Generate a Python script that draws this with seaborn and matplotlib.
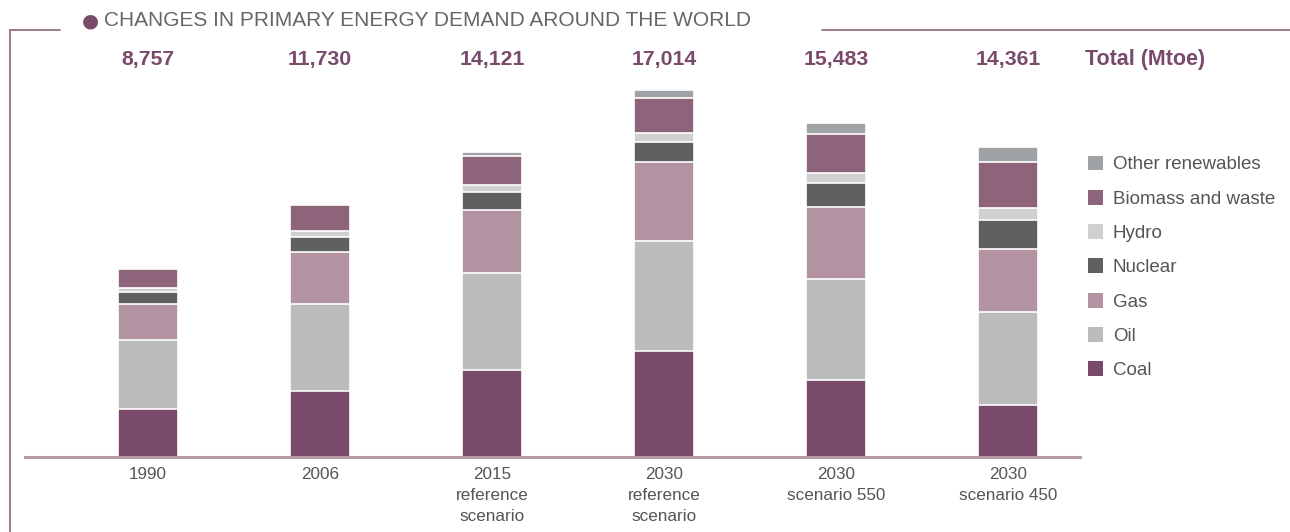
import matplotlib
matplotlib.use("Agg")
import matplotlib.pyplot as plt
import seaborn as sns
import numpy as np
import pandas as pd
from matplotlib.patches import Patch
from matplotlib.lines import Line2D

categories = ["1990", "2006", "2015\nreference\nscenario", "2030\nreference\nscenario",
              "2030\nscenario 550", "2030\nscenario 450"]
totals = ["8,757", "11,730", "14,121", "17,014", "15,483", "14,361"]

coal = [2220, 3053, 4023, 4908, 3560, 2390]
oil = [3219, 4029, 4525, 5109, 4690, 4320]
gas = [1671, 2407, 2903, 3670, 3360, 2945]
nuclear = [526, 728, 817, 901, 1090, 1320]
hydro = [184, 261, 321, 414, 455, 552]
biomass = [904, 1186, 1375, 1662, 1810, 2129]
other = [34, 66, 158, 350, 518, 705]

series_names = ["Coal", "Oil", "Gas", "Nuclear", "Hydro", "Biomass and waste", "Other renewables"]
series_vals = [coal, oil, gas, nuclear, hydro, biomass, other]
colors = ["#7a4a6b", "#bbbcbe", "#b393a2", "#5f6062", "#cfd0d2", "#8d6479", "#a0a3a6"]

sns.set_style("white")
plt.rcParams["font.family"] = ["Liberation Sans", "DejaVu Sans"]

W, H = 1290, 532
fig = plt.figure(figsize=(W / 100, H / 100), dpi=100)

base_px = 457
top_px = 40
left_px, right_px = 25, 1080
ax = fig.add_axes([left_px / W, 1 - base_px / H, (right_px - left_px) / W, (base_px - top_px) / H])

scale = 0.02157  # px per Mtoe
ax.set_ylim(0, (base_px - top_px) / scale)

cum = np.cumsum(np.array(series_vals), axis=0)
for i in range(len(series_names) - 1, -1, -1):
    df = pd.DataFrame({"cat": categories, "val": cum[i]})
    sns.barplot(data=df, x="cat", y="val", color=colors[i], width=0.35,
                edgecolor="white", linewidth=1.2, ax=ax, saturation=1)

x0 = (left_px - 148) / 172
x1 = (right_px - 148) / 172
ax.set_xlim(x0, x1)
ax.set_xlabel("")
ax.set_ylabel("")
ax.set_yticks([])
for s in ["top", "right", "left"]:
    ax.spines[s].set_visible(False)
ax.spines["bottom"].set_color("#b99aab")
ax.spines["bottom"].set_linewidth(2.2)
ax.tick_params(axis="x", length=0, pad=7, labelsize=12.3, labelcolor="#555555")
for lab in ax.get_xticklabels():
    lab.set_linespacing(1.5)
    lab.set_verticalalignment("top")

# totals
for i, t in enumerate(totals):
    ax.text(i, 1 - (60 - top_px) / (base_px - top_px), t, transform=ax.get_xaxis_transform(),
            ha="center", va="center", fontsize=15.3, fontweight="bold", color="#7a4a6b")
fig.text(1085 / W, 1 - 60 / H, "Total (Mtoe)", ha="left", va="center",
         fontsize=15.5, fontweight="bold", color="#7a4a6b")

# title
fig.text(82 / W, 1 - 21 / H, "\u25CF", ha="left", va="center", fontsize=14, color="#7a4a6b",
         family=["DejaVu Sans"])
fig.text(104 / W, 1 - 21 / H, "CHANGES IN PRIMARY ENERGY DEMAND AROUND THE WORLD",
         ha="left", va="center", fontsize=15.0, color="#666666")

# frame lines
fc = "#8d6479"
fig.add_artist(Line2D([10 / W, 10 / W], [0, 1 - 30 / H], transform=fig.transFigure, color=fc, lw=1.2))
fig.add_artist(Line2D([10 / W, 60 / W], [1 - 30 / H, 1 - 30 / H], transform=fig.transFigure, color=fc, lw=1.2))
fig.add_artist(Line2D([822 / W, 1], [1 - 30 / H, 1 - 30 / H], transform=fig.transFigure, color=fc, lw=1.2))

# legend
handles = [Patch(facecolor=colors[i], edgecolor="none", label=series_names[i])
           for i in range(len(series_names) - 1, -1, -1)]
leg = fig.legend(handles=handles, loc="upper left", bbox_to_anchor=(1080 / W, 1 - 148 / H),
                 frameon=False, fontsize=13.5, handlelength=0.85, handleheight=0.85,
                 handletextpad=0.5, labelspacing=0.87, borderaxespad=0)
for t in leg.get_texts():
    t.set_color("#555555")

fig.savefig("out.png", dpi=100)
